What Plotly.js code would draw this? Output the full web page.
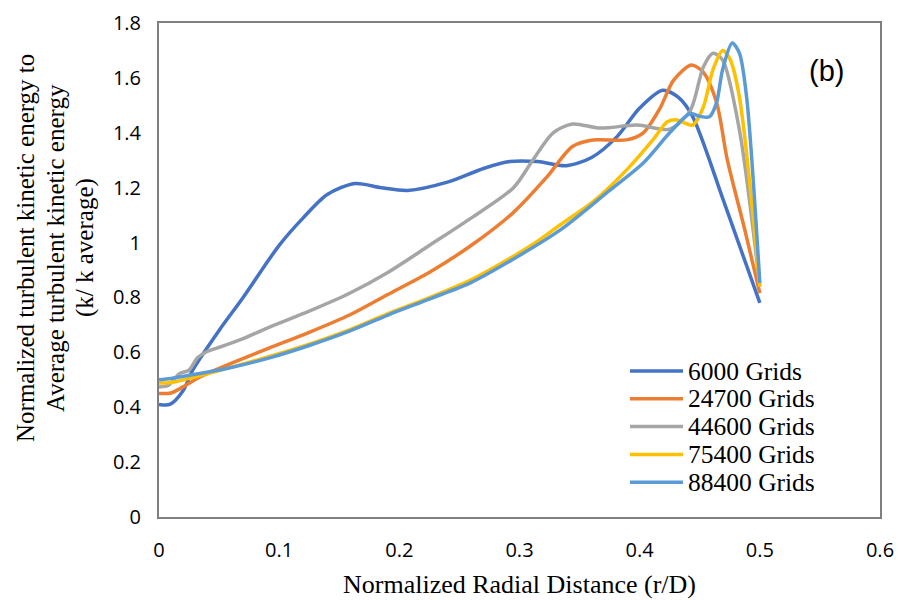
<!DOCTYPE html>
<html>
<head>
<meta charset="utf-8">
<script src="https://cdn.plot.ly/plotly-3.0.1.min.js"></script>
<style>html,body{margin:0;padding:0;background:#fff;}#chart{width:899px;height:600px;}</style>
</head>
<body>
<div id="chart"></div>
<script>
// Series names and colours
const seriesNames = ["6000 Grids", "24700 Grids", "44600 Grids", "75400 Grids", "88400 Grids"];
const seriesColors = ["#4472C4", "#ED7D31", "#A5A5A5", "#FFC000", "#5B9BD5"];

// 6000 Grids
const x6000 = [0, 0.009, 0.02, 0.028, 0.05, 0.07, 0.1, 0.12, 0.14, 0.163, 0.185, 0.207, 0.24, 0.27, 0.292, 0.315, 0.339, 0.36, 0.381, 0.40, 0.419, 0.432, 0.444, 0.47, 0.5];
const y6000 = [0.41, 0.41, 0.46, 0.535, 0.68, 0.8, 0.99, 1.09, 1.175, 1.215, 1.20, 1.19, 1.22, 1.27, 1.295, 1.295, 1.28, 1.31, 1.385, 1.49, 1.555, 1.53, 1.46, 1.15, 0.78];

// 24700 Grids
const x24700 = [0, 0.01, 0.02, 0.034, 0.06, 0.092, 0.125, 0.159, 0.19, 0.2255, 0.26, 0.295, 0.323, 0.344, 0.361, 0.389, 0.403, 0.417, 0.428, 0.443, 0.453, 0.464, 0.473, 0.4875, 0.5];
const y24700 = [0.45, 0.452, 0.474, 0.51, 0.56, 0.616, 0.673, 0.737, 0.81, 0.893, 0.99, 1.11, 1.24, 1.35, 1.374, 1.374, 1.40, 1.49, 1.59, 1.647, 1.62, 1.51, 1.30, 1.046, 0.816];

// 44600 Grids
const x44600 = [0, 0.008, 0.017, 0.025, 0.032, 0.04, 0.048, 0.07, 0.092, 0.125, 0.159, 0.19, 0.2255, 0.26, 0.295, 0.311, 0.328, 0.344, 0.367, 0.398, 0.425, 0.442, 0.453, 0.461, 0.469, 0.483, 0.5];
const y44600 = [0.474, 0.48, 0.522, 0.535, 0.58, 0.603, 0.615, 0.65, 0.692, 0.75, 0.816, 0.89, 0.991, 1.09, 1.20, 1.30, 1.40, 1.432, 1.417, 1.428, 1.413, 1.48, 1.64, 1.69, 1.665, 1.41, 0.84];

// 75400 Grids
const x75400 = [0, 0.01, 0.03, 0.06, 0.092, 0.125, 0.159, 0.19, 0.2255, 0.26, 0.295, 0.315, 0.334, 0.361, 0.389, 0.411, 0.423, 0.431, 0.444, 0.453, 0.461, 0.469, 0.475, 0.483, 0.5];
const y75400 = [0.488, 0.49, 0.51, 0.545, 0.585, 0.63, 0.683, 0.74, 0.80, 0.865, 0.95, 1.005, 1.065, 1.148, 1.264, 1.374, 1.44, 1.447, 1.428, 1.494, 1.63, 1.70, 1.67, 1.53, 0.84];

// 88400 Grids
const x88400 = [0, 0.01, 0.03, 0.06, 0.092, 0.125, 0.159, 0.19, 0.2255, 0.26, 0.295, 0.334, 0.375, 0.403, 0.425, 0.442, 0.45, 0.458, 0.464, 0.469, 0.477, 0.483, 0.489, 0.5];
const y88400 = [0.50, 0.505, 0.52, 0.545, 0.58, 0.625, 0.678, 0.735, 0.795, 0.855, 0.94, 1.046, 1.19, 1.29, 1.40, 1.47, 1.46, 1.458, 1.51, 1.63, 1.727, 1.69, 1.53, 0.853];

// Axis ticks
const xTicks = [0, 0.1, 0.2, 0.3, 0.4, 0.5, 0.6];
const xTickLabels = ["0", "0.1", "0.2", "0.3", "0.4", "0.5", "0.6"];
const yTicks = [0, 0.2, 0.4, 0.6, 0.8, 1, 1.2, 1.4, 1.6, 1.8];
const yTickLabels = ["0", "0.2", "0.4", "0.6", "0.8", "1", "1.2", "1.4", "1.6", "1.8"];

// Titles
const yTitleLines = ["Normalized turbulent kinetic energy to", "Average turbulent kinetic energy", "(k/ k average)"];
const xTitle = "Normalized Radial Distance (r/D)";
const panelLabel = "(b)";

const xs = [x6000, x24700, x44600, x75400, x88400];
const ys = [y6000, y24700, y44600, y75400, y88400];

const traces = seriesNames.map((name, i) => ({
  type: "scatter",
  mode: "lines",
  name: name,
  x: xs[i],
  y: ys[i],
  line: {color: seriesColors[i], width: 3.5, shape: "spline", smoothing: 0.8},
  showlegend: false
}));

const serif = "Liberation Serif, Times New Roman, serif";
const tickFont = {family: "Open Sans, sans-serif", size: 20, color: "#000"};

// plot-area geometry (pixels) used to place the legend block
const plotL = 159, plotW = 721, plotB = 517, plotH = 494;
const px2x = p => (p - plotL) / plotW;
const px2y = p => (plotB - p) / plotH;

const annotations = [];
const shapes = [];

// y-axis title, three lines
const yTitleX = [25, 55, 85];
yTitleLines.forEach((t, i) => annotations.push({
  text: t, xref: "paper", yref: "paper", x: px2x(yTitleX[i]), y: px2y(248),
  xanchor: "center", yanchor: "middle", textangle: -90, showarrow: false,
  font: {family: serif, size: 25, color: "#000"}
}));

annotations.push({
  text: xTitle, xref: "paper", yref: "paper", x: px2x(519), y: px2y(584),
  xanchor: "center", yanchor: "middle", showarrow: false,
  font: {family: serif, size: 26, color: "#000"}
});

annotations.push({
  text: panelLabel, xref: "paper", yref: "paper", x: px2x(826), y: px2y(71),
  xanchor: "center", yanchor: "middle", showarrow: false,
  font: {family: "Liberation Sans, Arial, sans-serif", size: 29, color: "#000"}
});

// legend block
const legTop = 371, legGap = 27.8, legLineX0 = 630, legLineX1 = 683, legTextX = 686;
seriesNames.forEach((name, i) => {
  const yc = legTop + i * legGap;
  shapes.push({type: "line", xref: "paper", yref: "paper",
    x0: px2x(legLineX0), x1: px2x(legLineX1), y0: px2y(yc), y1: px2y(yc),
    line: {color: seriesColors[i], width: 3.5}});
  annotations.push({text: name, xref: "paper", yref: "paper",
    x: px2x(legTextX), y: px2y(yc), xanchor: "left", yanchor: "middle", showarrow: false,
    font: {family: serif, size: 25.5, color: "#000"}});
});

const layout = {
  width: 899,
  height: 600,
  margin: {l: 159, r: 19, t: 23, b: 83},
  paper_bgcolor: "#fff",
  plot_bgcolor: "#fff",
  showlegend: false,
  xaxis: {
    range: [0, 0.6], tickvals: xTicks, ticktext: xTickLabels,
    showgrid: false, zeroline: false, showline: true, mirror: true,
    linecolor: "#7f7f7f", linewidth: 2, ticks: "", tickfont: tickFont,
    ticklabelstandoff: 14
  },
  yaxis: {
    range: [0, 1.8], tickvals: yTicks, ticktext: yTickLabels,
    showgrid: false, zeroline: false, showline: true, mirror: true,
    linecolor: "#7f7f7f", linewidth: 2, ticks: "", tickfont: tickFont,
    ticklabelstandoff: 12
  },
  annotations: annotations,
  shapes: shapes
};

Plotly.newPlot("chart", traces, layout, {staticPlot: true, displayModeBar: false});
</script>
</body>
</html>
